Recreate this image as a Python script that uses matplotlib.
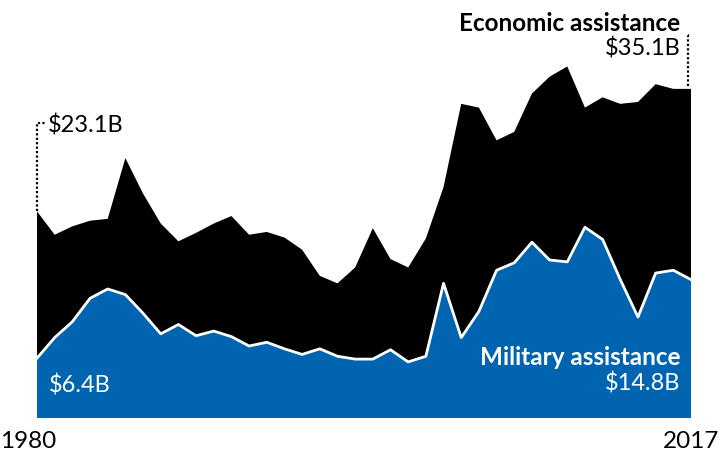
import matplotlib.pyplot as plt

# years 1980..2017, values in billions of dollars
years = list(range(1980, 2018))
military = [6.4, 8.6, 10.3, 12.8, 13.8, 13.2, 11.2, 9.0, 10.0, 8.8,
            9.3, 8.7, 7.7, 8.1, 7.4, 6.8, 7.4, 6.6, 6.3, 6.3,
            7.3, 6.0, 6.6, 14.4, 8.6, 11.4, 15.8, 16.6, 18.8, 16.9,
            16.7, 20.4, 19.1, 14.8, 10.8, 15.5, 15.8, 14.8]
economic = [15.7, 11.0, 10.2, 8.3, 7.5, 14.6, 12.8, 11.8, 8.9, 11.0,
            11.5, 12.9, 11.9, 11.8, 11.9, 11.2, 7.8, 7.8, 9.8, 14.0,
            9.7, 10.1, 12.6, 10.3, 25.0, 21.8, 13.9, 14.0, 15.9, 19.6,
            20.9, 12.8, 15.2, 18.8, 23.0, 20.2, 19.4, 20.4]

total_start_label = "$23.1B"
total_end_label = "$35.1B"
mil_start_label = "$6.4B"
mil_end_label = "$14.8B"

BLUE = "#0064b0"

plt.rcParams["font.family"] = ["Lato", "DejaVu Sans"]

fig = plt.figure(figsize=(7.19, 4.57), dpi=100)
ax = fig.add_axes([37 / 719, 39 / 457, 654 / 719, 418 / 457])

ax.stackplot(years, military, economic, colors=[BLUE, "black"], linewidth=0)
ax.plot(years, military, color="white", linewidth=2)

ax.set_xlim(years[0], years[-1])
ax.set_ylim(0, 418 / 9.35)
ax.axis("off")

# leader lines to the totals
tot0 = military[0] + economic[0]
tot1 = military[-1] + economic[-1]
lab0 = 31.6
lab1 = 41.0
ax.plot([years[0], years[0], years[0] + 0.5], [tot0, lab0, lab0],
        color="black", linewidth=1.6, linestyle=(0, (1, 1)), clip_on=False)
ax.plot([years[-1] - 0.15, years[-1] - 0.15, years[-1] - 0.3], [tot1 + 0.3, lab1, lab1],
        color="black", linewidth=1.6, linestyle=(0, (1, 1)), clip_on=False)

ax.text(years[0] + 0.6, 31.3, total_start_label, ha="left", va="center",
        fontsize=17, color="black")
ax.text(years[-1] - 0.6, 42.2, "Economic assistance", ha="right", va="center",
        fontsize=17.5, fontweight="bold", color="black")
ax.text(years[-1] - 0.6, 39.5, total_end_label, ha="right", va="center",
        fontsize=17, color="black")

ax.text(years[-1] - 0.6, 6.5, "Military assistance", ha="right", va="center",
        fontsize=17.5, fontweight="bold", color="white")
ax.text(years[-1] - 0.6, 3.7, mil_end_label, ha="right", va="center",
        fontsize=17, color="white")
ax.text(years[0] + 0.65, 3.5, mil_start_label, ha="left", va="center",
        fontsize=17, color="white")

fig.text(0, 15 / 457, str(years[0]), ha="left", va="center", fontsize=17.5)
fig.text(1, 15 / 457, str(years[-1]), ha="right", va="center", fontsize=17.5)

fig.savefig("out.png", dpi=100)
